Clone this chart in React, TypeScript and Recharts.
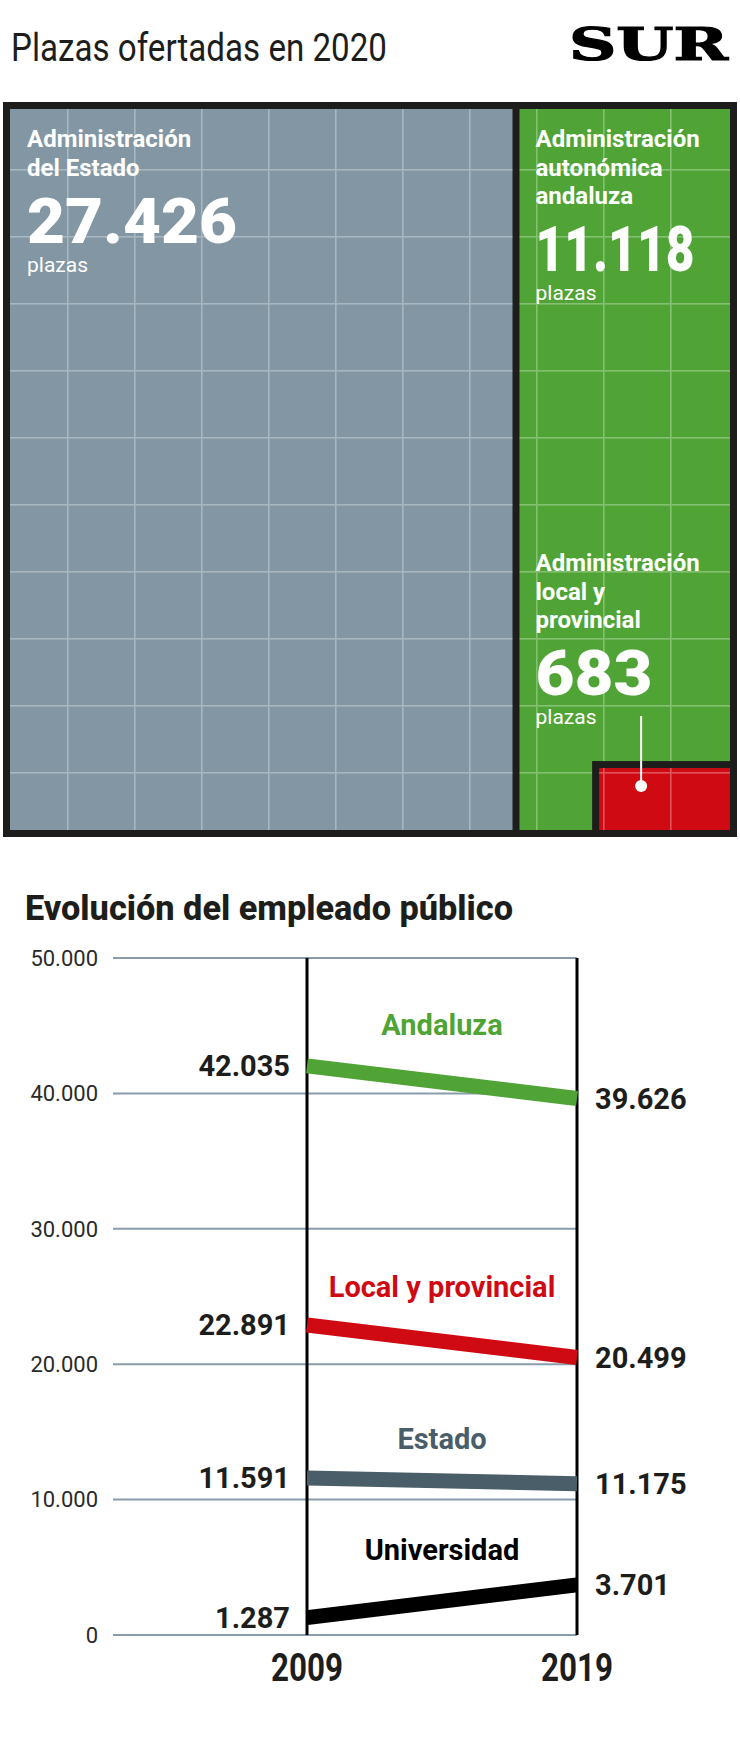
import {
  Treemap,
  LineChart,
  Line,
  XAxis,
  YAxis,
  CartesianGrid,
  ReferenceLine,
  ReferenceDot,
} from "recharts"

const FONT = "Roboto, 'Noto Sans', sans-serif"
const INK = "#1d1d1b"
const GRAY = "#8296a3"
const GREEN = "#4fa435"
const RED = "#cf0a13"

// Plazas ofertadas en 2020
const ofertaNames = [
  "Administración del Estado",
  "Administración autonómica andaluza",
  "Administración local y provincial",
]
const ofertaLines = [
  ["Administración", "del Estado"],
  ["Administración", "autonómica", "andaluza"],
  ["Administración", "local y", "provincial"],
]
const ofertaPlazas = [27426, 11118, 683]

// Evolución del empleado público
const years = [2009, 2019]
const andaluza = [42035, 39626]
const localProvincial = [22891, 20499]
const estado = [11591, 11175]
const universidad = [1287, 3701]
const yTicks = [0, 10000, 20000, 30000, 40000, 50000]

const series = [
  { key: "andaluza", name: "Andaluza", values: andaluza, color: GREEN, nameOffset: 47 },
  { key: "local", name: "Local y provincial", values: localProvincial, color: RED, nameOffset: 44 },
  { key: "estado", name: "Estado", values: estado, color: "#4a5e6a", nameOffset: 32 },
  { key: "universidad", name: "Universidad", values: universidad, color: "#000", nameOffset: 41 },
]

const lineData = years.map((year, i) => {
  const row: Record<string, number> = { year }
  series.forEach((s) => (row[s.key] = s.values[i]))
  return row
})

const treeData = [
  { name: ofertaNames[0], value: ofertaPlazas[0] },
  {
    name: "Andalucía",
    children: [
      { name: ofertaNames[1], value: ofertaPlazas[1] },
      { name: ofertaNames[2], value: ofertaPlazas[2] },
    ],
  },
]

const fmt = (n: number) => String(n).replace(/\B(?=(\d{3})+(?!\d))/g, ".")

const TM_W = 734
const TM_H = 735
const B = 7
const bigWidths = [210, 159, 117]

function CellLabel({ x, y, i }: { x: number; y: number; i: number }) {
  const lines = ofertaLines[i]
  const numY = y + (lines.length - 1) * 28.5 + 67
  return (
    <g fill="#fff" fontFamily={FONT}>
      {lines.map((l, k) => (
        <text key={k} x={x} y={y + k * 28.5} fontSize={24} fontWeight={700}>
          {l}
        </text>
      ))}
      <text
        x={x}
        y={numY}
        fontSize={63}
        fontWeight={900}
        textLength={bigWidths[i]}
        lengthAdjust="spacingAndGlyphs"
      >
        {fmt(ofertaPlazas[i])}
      </text>
      <text x={x} y={numY + 29} fontSize={21} fontWeight={400}>
        plazas
      </text>
    </g>
  )
}

function renderCell(props: any) {
  const { x, y, width, height, depth, name } = props
  if (depth === 0) {
    return <rect x={x} y={y} width={width} height={height} fill={INK} />
  }
  const l = x <= 0.5 ? B : B / 2
  const t = y <= 0.5 ? B : B / 2
  const r = x + width >= TM_W - 0.5 ? B : B / 2
  const b = y + height >= TM_H - 0.5 ? B : B / 2
  const ix = x + l
  const iy = y + t
  const iw = width - l - r
  const ih = height - t - b
  const i = ofertaNames.indexOf(name)

  if (i < 0) {
    return (
      <g>
        <rect x={ix} y={iy} width={iw} height={ih} fill={GREEN} />
        <rect x={ix} y={iy} width={iw} height={ih} fill="url(#tm-grid)" />
      </g>
    )
  }
  if (i === 0) {
    return (
      <g>
        <rect x={ix} y={iy} width={iw} height={ih} fill={GRAY} />
        <rect x={ix} y={iy} width={iw} height={ih} fill="url(#tm-grid)" />
        <CellLabel x={ix + 17} y={iy + 38} i={0} />
      </g>
    )
  }
  if (i === 1) {
    return <CellLabel x={ix + 16} y={iy + 38} i={1} />
  }
  // smallest cell: same area, drawn as a 2:1 box in the corner
  const bw = Math.sqrt(2 * width * height)
  const bh = bw / 2
  const bx = x + width - r - bw
  const by = y + height - b - bh
  return (
    <g>
      <rect x={bx} y={by} width={bw} height={bh} fill={INK} />
      <rect x={bx + B} y={by + B} width={bw - B} height={bh - B} fill={RED} />
      <rect x={bx + B} y={by + B} width={bw - B} height={bh - B} fill="url(#tm-grid)" />
      <line x1={bx + 49} y1={by - 45} x2={bx + 49} y2={by + 25} stroke="#fff" strokeWidth={2} />
      <circle cx={bx + 49} cy={by + 25} r={6} fill="#fff" />
      <CellLabel x={ix + 16} y={by - 190} i={2} />
    </g>
  )
}

function makeValueDot(key: string) {
  return (props: any) => {
    const { cx, cy, index, payload } = props
    const left = index === 0
    return (
      <text
        key={`${key}-${index}`}
        x={left ? cx - 17 : cx + 18}
        y={cy}
        dy="0.35em"
        textAnchor={left ? "end" : "start"}
        fontFamily={FONT}
        fontSize={29}
        fontWeight={700}
        fill={INK}
      >
        {fmt(payload[key])}
      </text>
    )
  }
}

function YearTick(props: any) {
  const { x, y, payload } = props
  return (
    <text
      x={x}
      y={y + 44}
      textAnchor="middle"
      fontFamily={FONT}
      fontSize={39}
      fontWeight={700}
      fill={INK}
      textLength={72}
      lengthAdjust="spacingAndGlyphs"
    >
      {payload.value}
    </text>
  )
}

export default function App() {
  return (
    <div
      style={{
        position: "absolute",
        left: 0,
        top: 0,
        width: 740,
        height: 1742,
        background: "#fff",
        overflow: "hidden",
      }}
    >
      <svg width={0} height={0} style={{ position: "absolute" }}>
        <defs>
          <pattern id="tm-grid" patternUnits="userSpaceOnUse" x={-3} y={0} width={67} height={67}>
            <rect x={0} y={0} width={1.6} height={67} fill="rgba(255,255,255,0.3)" />
            <rect x={1.6} y={0} width={65.4} height={1.6} fill="rgba(255,255,255,0.3)" />
          </pattern>
        </defs>
      </svg>

      <svg width={740} height={100} style={{ position: "absolute", left: 0, top: 0 }}>
        <text
          x={11}
          y={61}
          fontFamily={FONT}
          fontSize={39}
          fontWeight={400}
          fill={INK}
          textLength={376}
          lengthAdjust="spacingAndGlyphs"
        >
          Plazas ofertadas en 2020
        </text>
        <text
          x={569}
          y={60}
          fontFamily="'DejaVu Serif', serif"
          fontSize={44}
          fontWeight={700}
          fill="#000"
          stroke="#000"
          strokeWidth={1.2}
          textLength={159}
          lengthAdjust="spacingAndGlyphs"
        >
          SUR
        </text>
      </svg>

      <div style={{ position: "absolute", left: 3, top: 102, width: TM_W, height: TM_H, background: INK }}>
        <Treemap
          width={TM_W}
          height={TM_H}
          data={treeData}
          dataKey="value"
          isAnimationActive={false}
          content={renderCell}
        />
      </div>

      <svg width={740} height={60} style={{ position: "absolute", left: 0, top: 870 }}>
        <text
          x={25}
          y={50}
          fontFamily={FONT}
          fontSize={35}
          fontWeight={800}
          fill={INK}
          textLength={488}
          lengthAdjust="spacingAndGlyphs"
        >
          Evolución del empleado público
        </text>
      </svg>

      <div style={{ position: "absolute", left: 0, top: 930 }}>
        <LineChart
          width={740}
          height={780}
          data={lineData}
          margin={{ top: 28, right: 163, bottom: 15, left: 0 }}
        >
          <CartesianGrid vertical={false} stroke="#8a9cab" strokeWidth={2} />
          <XAxis
            type="number"
            dataKey="year"
            domain={[2009, 2019]}
            ticks={years}
            padding={{ left: 194, right: 0 }}
            axisLine={false}
            tickLine={false}
            tickSize={0}
            height={60}
            tick={<YearTick />}
          />
          <YAxis
            type="number"
            domain={[0, 50000]}
            ticks={yTicks}
            width={113}
            axisLine={false}
            tickLine={false}
            tickSize={0}
            tickMargin={15}
            tickFormatter={fmt}
            tick={{ fontFamily: FONT, fontSize: 22, fill: "#2a2a2a" }}
          />
          {years.map((yr) => (
            <ReferenceLine key={yr} x={yr} stroke="#000" strokeWidth={3} />
          ))}
          {series.map((s) => (
            <Line
              key={s.key}
              type="linear"
              dataKey={s.key}
              stroke={s.color}
              strokeWidth={15}
              dot={makeValueDot(s.key)}
              activeDot={false}
              isAnimationActive={false}
            />
          ))}
          {series.map((s) => (
            <ReferenceDot
              key={`n-${s.key}`}
              x={(years[0] + years[1]) / 2}
              y={(s.values[0] + s.values[1]) / 2}
              r={0}
              fill="none"
              stroke="none"
              ifOverflow="visible"
              label={{
                value: s.name,
                position: "top",
                offset: s.nameOffset,
                fill: s.color,
                fontSize: 29,
                fontWeight: 700,
                fontFamily: FONT,
              }}
            />
          ))}
        </LineChart>
      </div>
    </div>
  )
}
